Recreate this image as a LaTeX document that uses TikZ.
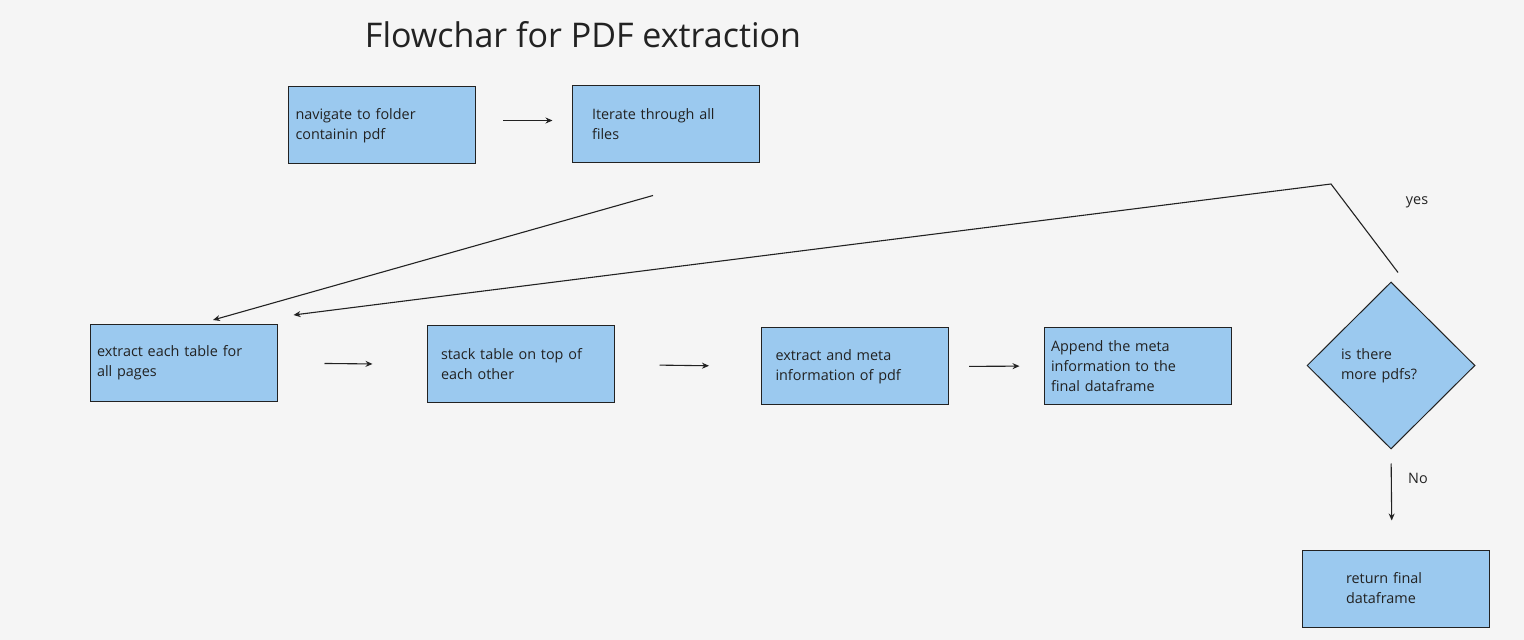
\documentclass[tikz,border=0pt]{standalone}
\usepackage{fontspec}
\setmainfont{Open Sans}
\usetikzlibrary{shapes.geometric,arrows.meta,calc}
\definecolor{boxblue}{RGB}{155,201,239}
\definecolor{pagebg}{RGB}{245,245,245}
\definecolor{inkline}{RGB}{34,34,34}
\tikzset{
  box/.style={draw=inkline, line width=0.5pt, fill=boxblue, minimum height=38.5pt,
    align=left, inner ysep=2pt, inner xsep=#1, text width={93.5pt-2*#1},
    font=\fontsize{7.2}{10}\selectfont, text=inkline},
  decision/.style={diamond, draw=inkline, line width=0.5pt, fill=boxblue,
    minimum width=84pt, minimum height=83.5pt, inner sep=0pt, align=left,
    text width=50pt, font=\fontsize{7.2}{10}\selectfont, text=inkline},
  flow/.style={draw=inkline, line width=0.55pt, -{Stealth[length=3.5pt,width=3pt]}},
  lbl/.style={font=\fontsize{7.2}{10}\selectfont, text=inkline, inner sep=0pt},
}
\begin{document}
\begin{tikzpicture}[x=0.5pt,y=-0.5pt]
        % page
        \fill[pagebg] (0,0) rectangle (1524,640);
        \useasboundingbox (0,0) rectangle (1524,640);
        \fill[black!4, rounded corners=3pt] (255,-6) rectangle (780,3);
        % Text Node
        \node[lbl, font=\fontsize{17}{20}\selectfont] (title) at (583,35) {Flowchar for PDF extraction};
        %Shape: Boxes
        \node[box=3.5pt] (nav) at (382,125.5) {navigate to folder\\containin pdf};
        \node[box=10pt] (iter) at (665.5,124.5) {Iterate through all\\files};
        \node[box=3.5pt] (extract) at (183.5,363) {extract each table for\\all pages};
        \node[box=7pt] (stack) at (520.5,364.5) {stack table on top of\\each other};
        \node[box=7pt] (meta) at (855,366.5) {extract and meta\\information of pdf};
        \node[box=3.5pt] (append) at (1137.5,366) {Append the meta\\information to the\\final dataframe};
        %Shape: Diamond
        \node[decision] (dec) at (1391,365.5) {is there\\more pdfs?};
        \node[box=22pt] (ret) at (1395.5,588.5) {return final\\dataframe};
        % Text Node
        \node[lbl] (yeslbl) at (1417,202) {yes};
        \node[lbl] (nolbl) at (1418,478) {No};
        %Straight Lines
        \draw[flow, shorten <=13.5pt, shorten >=9.5pt] ([yshift=2.5pt]nav.east) -- ([yshift=2pt]iter.west);
        \draw[flow] ($(iter.south)+(-12.5,32)$) -- ($(extract.north)+(29.5,-4)$);
        \draw[flow, shorten <=23.5pt, shorten >=27pt] (extract.east) -- (stack.west);
        \draw[flow, shorten <=22.5pt, shorten >=26pt] (stack.east) -- (meta.west);
        \draw[flow, shorten <=10pt, shorten >=12pt] (meta.east) -- (append.west);
        % loop back
        \coordinate (corner) at (1331,184);
        \draw[flow] ($(dec.north)+(7,-9)$) -- (corner) -- ($(extract.north east)+(16,-9)$);
        \draw[flow, shorten <=7pt, shorten >=14.5pt] (dec.south) -- ($(ret.north)+(-3.5,0)$);
\end{tikzpicture}
\end{document}
